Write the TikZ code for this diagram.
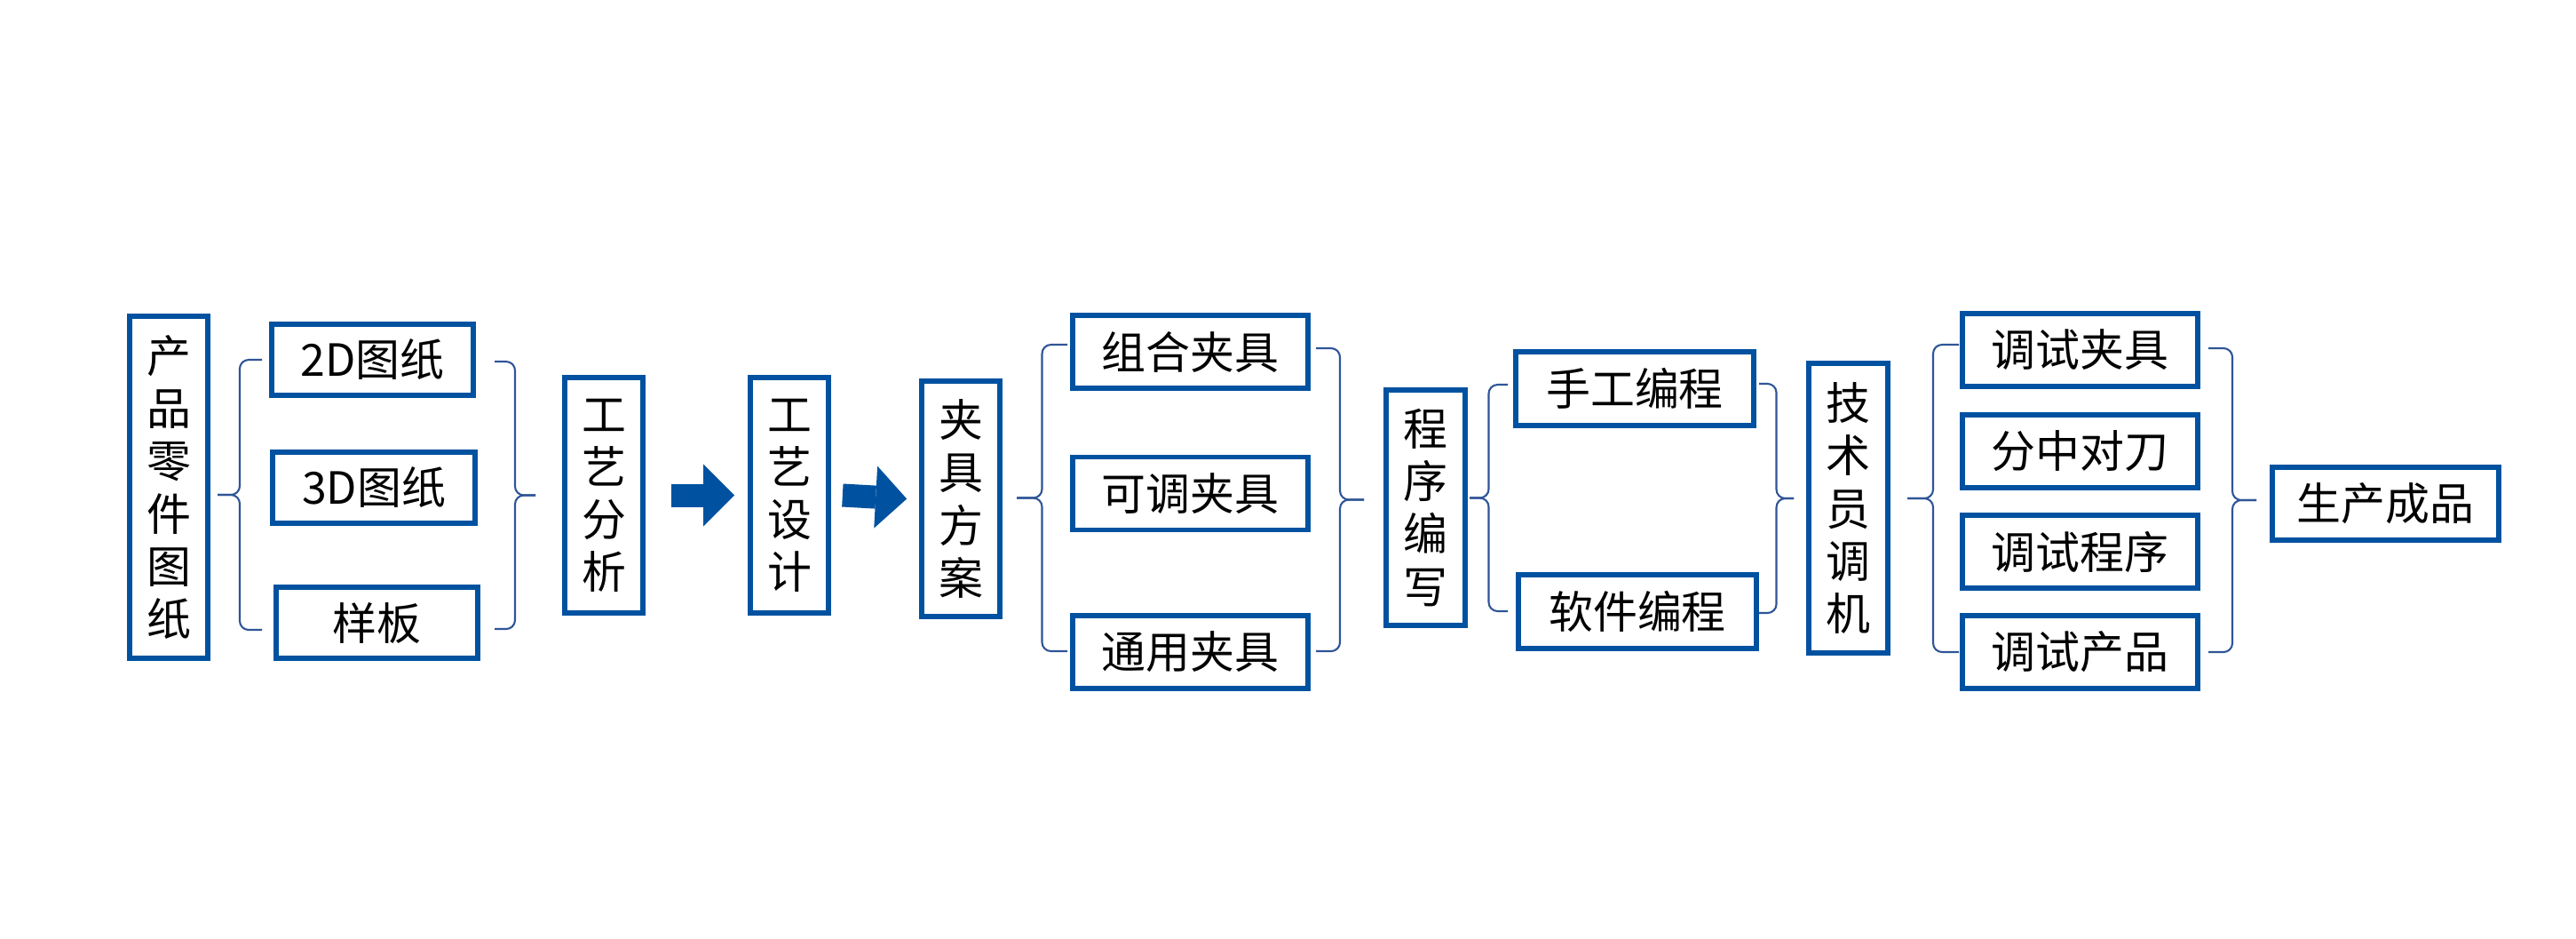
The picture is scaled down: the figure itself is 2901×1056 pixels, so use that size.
\documentclass[tikz,border=0pt]{standalone}
\usepackage{fontspec}
\newfontfamily\cjk{Noto Sans CJK SC}
\usetikzlibrary{arrows.meta}
\definecolor{boxblue}{RGB}{0,82,160}
\definecolor{braceblue}{RGB}{47,85,151}
\tikzset{
    stepbox/.style = {draw = boxblue, line width = 1.6pt, fill = white, inner sep = 0pt,
        font = \cjk\fontsize{14.2pt}{16.8pt}\selectfont, align = center},
    brc/.style = {draw = braceblue, line width = .6pt, rounded corners = .1cm},
    bigarrow/.style = {draw = boxblue, line width = .26cm,
        -{Triangle[length = .35cm, width = .7cm, line width = 0pt]}},
}
% end x, tip x, top y, bottom y
\newcommand{\grpbrace}[4]{%
    \draw[brc] (#1,#3) -- ({(#1+#2)/2},#3) -- ({(#1+#2)/2},{(#3+#4)/2}) -- (#2,{(#3+#4)/2});
    \draw[brc] (#1,#4) -- ({(#1+#2)/2},#4) -- ({(#1+#2)/2},{(#3+#4)/2}) -- (#2,{(#3+#4)/2});
}

\begin{document}
\begin{tikzpicture}[x = .01cm, y = -.01cm]
    \fill[white] (0,0) rectangle (2901,1056);

    % drawings
    \node[stepbox, minimum width = .88cm, minimum height = 3.85cm] (drawing) at (190,548.5) {产\\品\\零\\件\\图\\纸};
    \node[stepbox, minimum width = 2.27cm, minimum height = .8cm] (two) at (419.5,405) {2D图纸};
    \node[stepbox, minimum width = 2.28cm, minimum height = .8cm] (three) at (421,549) {3D图纸};
    \node[stepbox, minimum width = 2.27cm, minimum height = .8cm] (model) at (424.5,701) {样板};
    \grpbrace{295}{245}{405}{709}
    \grpbrace{557}{603}{407}{708}

    % process
    \node[stepbox, minimum width = .88cm, minimum height = 2.65cm] (analysis) at (680,557.5) {工\\艺\\分\\析};
    \node[stepbox, minimum width = .88cm, minimum height = 2.65cm] (design) at (889,557.5) {工\\艺\\设\\计};
    \node[stepbox, minimum width = .88cm, minimum height = 2.65cm] (plan) at (1082,561.5) {夹\\具\\方\\案};
    \draw[bigarrow] ([xshift = .29cm]analysis.east) -- ([xshift = -.15cm]design.west);
    \draw[bigarrow] ([xshift = .13cm]design.east) -- ([xshift = -.14cm]plan.west);

    % fixtures
    \grpbrace{1202}{1145}{388}{733}
    \node[stepbox, minimum width = 2.65cm, minimum height = .82cm] (combo) at (1340.5,396) {组合夹具};
    \node[stepbox, minimum width = 2.65cm, minimum height = .82cm] (adjust) at (1340.5,555.5) {可调夹具};
    \node[stepbox, minimum width = 2.65cm, minimum height = .82cm] (general) at (1340.5,734) {通用夹具};
    \grpbrace{1482}{1536}{392}{733}

    % programming
    \node[stepbox, minimum width = .89cm, minimum height = 2.65cm] (program) at (1605.5,571.5) {程\\序\\编\\写};
    \grpbrace{1698}{1655}{433}{688}
    \node[stepbox, minimum width = 2.68cm, minimum height = .83cm] (manual) at (1841,437.5) {手工编程};
    \node[stepbox, minimum width = 2.68cm, minimum height = .83cm] (software) at (1844,688.5) {软件编程};
    \grpbrace{1981}{2020}{432}{690}

    % setup
    \node[stepbox, minimum width = .89cm, minimum height = 3.26cm] (tech) at (2081.5,572) {技\\术\\员\\调\\机};
    \grpbrace{2206}{2148}{388}{734}
    \node[stepbox, minimum width = 2.65cm, minimum height = .82cm] (jig) at (2342.5,394) {调试夹具};
    \node[stepbox, minimum width = 2.65cm, minimum height = .82cm] (center) at (2342.5,508) {分中对刀};
    \node[stepbox, minimum width = 2.65cm, minimum height = .82cm] (code) at (2342.5,621) {调试程序};
    \node[stepbox, minimum width = 2.65cm, minimum height = .82cm] (part) at (2342.5,734) {调试产品};
    \grpbrace{2487}{2541}{392}{734}
    \node[stepbox, minimum width = 2.55cm, minimum height = .82cm] (product) at (2686.5,567) {生产成品};
\end{tikzpicture}
\end{document}
